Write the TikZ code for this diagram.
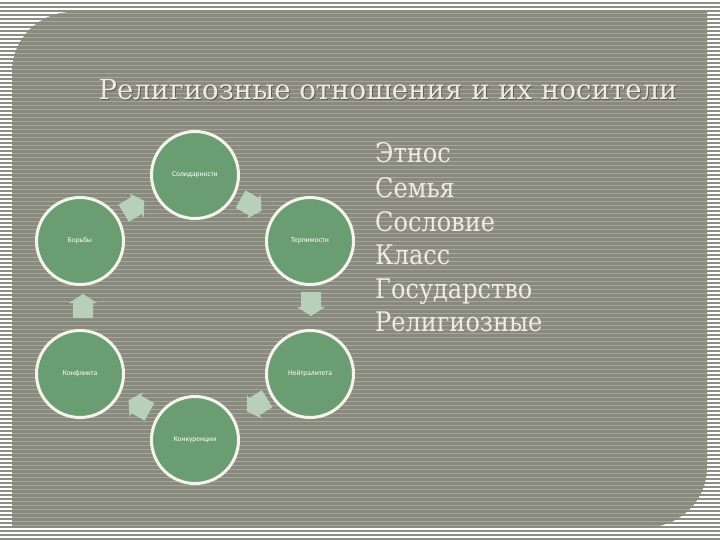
\documentclass[tikz,border=0pt]{standalone}
\usepackage{fontspec}
\setmainfont{DejaVu Serif}
\newfontfamily\lblfont{Carlito}
\definecolor{outerstripe}{HTML}{8E8E84}
\definecolor{innergray}{HTML}{898A7E}
\definecolor{innerline}{HTML}{A6A69B}
\definecolor{circfill}{HTML}{6A9D71}
\definecolor{circedge}{HTML}{F4F4EC}
\definecolor{arrowfill}{HTML}{B8D0B9}
\definecolor{titlecol}{HTML}{EDEDE0}
\definecolor{shadowcol}{HTML}{5E5E55}
\newcommand{\narrow}[1]{\scalebox{0.89}[1]{#1}}
\tikzset{
  cyc/.style={circle, fill=circfill, draw=circedge, line width=3pt, minimum size=87pt, inner sep=0pt,
    text=white, font=\lblfont\fontsize{7.5}{9}\selectfont},
  listitem/.style={anchor=base west, inner sep=0pt, text=titlecol, font=\fontsize{27}{30}\selectfont},
  titletext/.style={anchor=base, inner sep=0pt, font=\fontsize{27.6}{32}\selectfont},
  blockarrow/.pic={\fill[arrowfill] (-12,-10) -- (3,-10) -- (3,-14) -- (12,0) -- (3,14) -- (3,10) -- (-12,10) -- cycle;}
}
\begin{document}
\begin{tikzpicture}[x=1pt,y=-1pt]
\useasboundingbox (0,0) rectangle (720,540);
\fill[white] (0,0) rectangle (720,540);
\foreach \i in {0,...,134} \fill[outerstripe] (0,\i*4+2) rectangle (720,\i*4+4);
\begin{scope}
\clip (12,270) [rounded corners=60] -- (12,12) -- (360,12) [sharp corners] -- (707,12) -- (707,270) [rounded corners=60] -- (707,527) -- (360,527) [sharp corners] -- (12,527) -- cycle;
\fill[innergray] (0,0) rectangle (720,540);
\foreach \i in {0,...,134} \fill[innerline] (0,\i*4+1) rectangle (720,\i*4+2);
\end{scope}
% title
\node[titletext, text=shadowcol] (titleshadow) at (389,101) {Религиозные отношения и их носители};
\node[titletext, text=titlecol] (title) at (388,100) {Религиозные отношения и их носители};
% cycle
\node[cyc] (sol) at (195,175) {Солидарности};
\node[cyc] (ter) at (310,241) {Терпимости};
\node[cyc] (nei) at (310,374) {Нейтралитета};
\node[cyc] (kon) at (195,440) {Конкуренции};
\node[cyc] (konf) at (80,374) {Конфликта};
\node[cyc] (bor) at (80,241) {Борьбы};
\pic[rotate=31] at (134,207) {blockarrow};
\pic[rotate=-29] at (251,205) {blockarrow};
\pic[rotate=-90] at (311,304) {blockarrow};
\pic[rotate=-148] at (257,405) {blockarrow};
\pic[rotate=151] at (139,406) {blockarrow};
\pic[rotate=90] at (83,306) {blockarrow};
% list
\node[listitem] (l1) at (375,163) {\narrow{Этнос}};
\node[listitem] (l2) at (375,197) {\narrow{Семья}};
\node[listitem] (l3) at (375,231) {\narrow{Сословие}};
\node[listitem] (l4) at (375,264) {\narrow{Класс}};
\node[listitem] (l5) at (375,298) {\narrow{Государство}};
\node[listitem] (l6) at (375,331) {\narrow{Религиозные}};
\end{tikzpicture}
\end{document}
